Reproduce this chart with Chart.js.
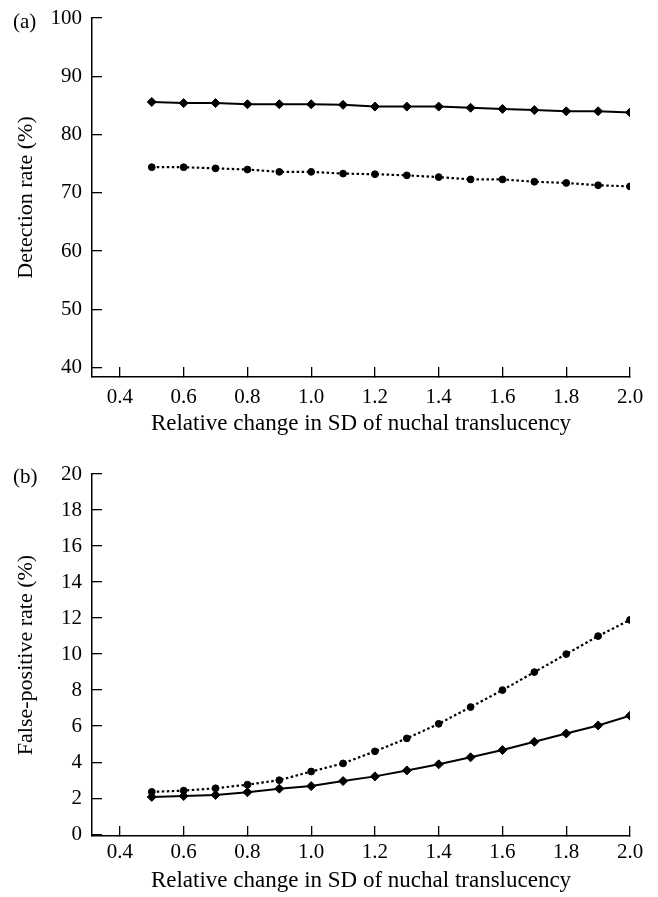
<!DOCTYPE html>
<html>
<head>
<meta charset="utf-8">
<script src="https://cdn.jsdelivr.net/npm/chart.js@4.4.0/dist/chart.umd.min.js"></script>
<style>
  html, body { margin: 0; padding: 0; background: #fff; }
  #wrap { position: relative; width: 658px; height: 897px; }
  canvas { position: absolute; left: 0; }
  .plab { position: absolute; left: 13px; font: 21px "Liberation Serif", serif; line-height: 21px; color: #000; }
</style>
</head>
<body>
<div id="wrap">
  <canvas id="chartA" width="658" height="443" style="top:0"></canvas>
  <canvas id="chartB" width="658" height="454" style="top:443px"></canvas>
  <div class="plab" style="top:11px">(a)</div>
  <div class="plab" style="top:466px">(b)</div>
</div>
<script>
// relative change in SD of nuchal translucency
const sdChange = [0.5, 0.6, 0.7, 0.8, 0.9, 1.0, 1.1, 1.2, 1.3, 1.4, 1.5, 1.6, 1.7, 1.8, 1.9, 2.0];

// (a) detection rate (%)
const detectSolid  = [85.6, 85.4, 85.4, 85.2, 85.2, 85.2, 85.1, 84.8, 84.8, 84.8, 84.6, 84.4, 84.2, 84.0, 84.0, 83.8];
const detectDotted = [74.4, 74.4, 74.2, 74.0, 73.6, 73.6, 73.3, 73.2, 73.0, 72.7, 72.3, 72.3, 71.9, 71.7, 71.3, 71.1];

// (b) false-positive rate (%)
const fprSolid  = [2.07, 2.12, 2.18, 2.33, 2.53, 2.67, 2.95, 3.21, 3.54, 3.88, 4.27, 4.67, 5.13, 5.59, 6.04, 6.58];
const fprDotted = [2.35, 2.42, 2.55, 2.75, 3.0, 3.48, 3.93, 4.6, 5.32, 6.13, 7.06, 8.0, 9.0, 10.0, 11.0, 11.9];

// tick labels
const xTicks = [0.4, 0.6, 0.8, 1.0, 1.2, 1.4, 1.6, 1.8, 2.0];
const detectTicks = [40, 50, 60, 70, 80, 90, 100];
const fprTicks = [0, 2, 4, 6, 8, 10, 12, 14, 16, 18, 20];

const xTitle = 'Relative change in SD of nuchal translucency';
const serif = '"Liberation Serif", "Times New Roman", serif';

function pairs(ys) {
  return sdChange.map((x, i) => ({ x: x, y: ys[i] }));
}

// lay = { padTop, xHeight, labelPad, titlePad }
function makeChart(id, solid, dotted, yMin, yMax, yTicks, yTitle, lay) {
  const ctx = document.getElementById(id).getContext('2d');
  return new Chart(ctx, {
    type: 'line',
    data: {
      datasets: [{
        data: pairs(solid),
        borderColor: '#000',
        backgroundColor: '#000',
        borderWidth: 2,
        pointStyle: 'rectRot',
        pointRadius: 4.5,
        pointBorderWidth: 1,
        tension: 0
      }, {
        data: pairs(dotted),
        borderColor: '#000',
        backgroundColor: '#000',
        borderWidth: 2.2,
        borderDash: [2.5, 2.5],
        pointStyle: 'circle',
        pointRadius: 3.4,
        pointBorderWidth: 1,
        tension: 0
      }]
    },
    options: {
      responsive: false,
      animation: false,
      layout: { padding: { top: lay.padTop, right: 28, bottom: 0, left: 0 } },
      plugins: { legend: { display: false }, tooltip: { enabled: false } },
      scales: {
        x: {
          type: 'linear',
          min: 0.3125,
          max: 2.0,
          afterBuildTicks: s => { s.ticks = xTicks.map(v => ({ value: v })); },
          afterFit: s => {
            s.height = lay.xHeight;
            s.paddingLeft = 0;
            s.paddingRight = 0;
          },
          ticks: {
            color: '#000',
            font: { family: serif, size: 21 },
            padding: lay.labelPad,
            maxRotation: 0,
            autoSkip: false,
            callback: v => v.toFixed(1)
          },
          grid: { drawOnChartArea: false, tickLength: -10, color: '#000', lineWidth: 1.3 },
          border: { color: '#000', width: 1.5 },
          title: {
            display: true,
            text: xTitle,
            color: '#000',
            font: { family: serif, size: 23 },
            padding: { top: 0, bottom: lay.titlePad }
          }
        },
        y: {
          min: yMin,
          max: yMax,
          afterBuildTicks: s => { s.ticks = yTicks.map(v => ({ value: v })); },
          afterFit: s => {
            s.width = 92;
            s.paddingTop = 0;
            s.paddingBottom = 0;
          },
          ticks: {
            color: '#000',
            font: { family: serif, size: 21 },
            padding: 20
          },
          grid: { drawOnChartArea: false, tickLength: -10, color: '#000', lineWidth: 1.3 },
          border: { color: '#000', width: 1.5 },
          title: {
            display: true,
            text: yTitle,
            color: '#000',
            font: { family: serif, size: 22 },
            padding: { top: 13, bottom: 0 }
          }
        }
      }
    }
  });
}

makeChart('chartA', detectSolid, detectDotted, 38.4, 100, detectTicks, 'Detection rate (%)',
  { padTop: 18, xHeight: 66, labelPad: 18, titlePad: 5 });
makeChart('chartB', fprSolid, fprDotted, -0.1, 20, fprTicks, 'False-positive rate (%)',
  { padTop: 31, xHeight: 61, labelPad: 14, titlePad: 2 });
</script>
</body>
</html>
